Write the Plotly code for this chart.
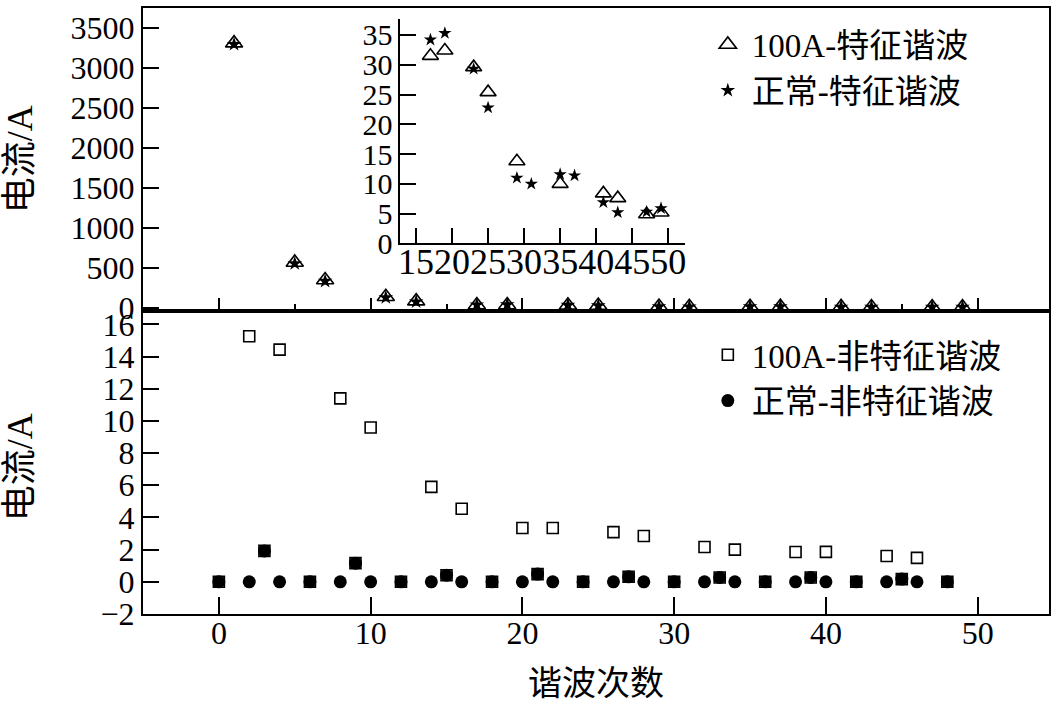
import plotly.graph_objects as go

# ---------------- data ----------------
char_orders = [1, 5, 7, 11, 13, 17, 19, 23, 25, 29, 31, 35, 37, 41, 43, 47, 49]
i100_char = [3310, 565, 345, 135, 80, 31.5, 32.4, 29.6, 25.4, 13.8, 10.2, 10.0, 11.2, 8.4, 7.6, 4.9, 5.2]
normal_char = [3295, 550, 330, 125, 72, 34.2, 35.3, 29.3, 22.8, 11.0, 10.0, 11.6, 11.4, 6.9, 5.2, 5.3, 5.9]

# inset (zoom of orders 15-50); the 100A marks at 31 and 37 are not shown in the inset
inset_orders = [17, 19, 23, 25, 29, 31, 35, 37, 41, 43, 47, 49]
inset_i100 = [31.5, 32.4, 29.6, 25.4, 13.8, None, 10.0, None, 8.4, 7.6, 4.9, 5.2]
inset_normal = [34.2, 35.3, 29.3, 22.8, 11.0, 10.0, 11.6, 11.4, 6.9, 5.2, 5.3, 5.9]

non_orders = [0, 2, 3, 4, 6, 8, 9, 10, 12, 14, 15, 16, 18, 20, 21, 22, 24, 26, 27, 28,
              30, 32, 33, 34, 36, 38, 39, 40, 42, 44, 45, 46, 48]
i100_non = [0.0, 15.26, 1.92, 14.43, 0.0, 11.4, 1.16, 9.59, 0.0, 5.9, 0.41, 4.54, 0.0, 3.34, 0.48, 3.34,
            0.0, 3.09, 0.31, 2.85, 0.0, 2.16, 0.27, 2.0, 0.0, 1.85, 0.27, 1.86, 0.0, 1.6, 0.17, 1.49, 0.0]
normal_non = [0.0, 0.0, 1.92, 0.0, 0.0, 0.0, 1.16, 0.0, 0.0, 0.0, 0.41, 0.0, 0.0, 0.0, 0.48, 0.0,
              0.0, 0.0, 0.31, 0.0, 0.0, 0.0, 0.27, 0.0, 0.0, 0.0, 0.27, 0.0, 0.0, 0.0, 0.17, 0.0, 0.0]

lbl_i100_char = "100A-特征谐波"
lbl_normal_char = "正常-特征谐波"
lbl_i100_non = "100A-非特征谐波"
lbl_normal_non = "正常-非特征谐波"
x_title = "谐波次数"
y_title = "电流/A"

FONT = "Liberation Serif, Times New Roman, Noto Sans CJK SC, serif"
BLACK = "#000000"

fig = go.Figure()

# top panel
fig.add_trace(go.Scatter(x=char_orders, y=i100_char, mode="markers", name=lbl_i100_char,
                         xaxis="x2", yaxis="y2", legend="legend",
                         marker=dict(symbol="triangle-up-open", size=15, color=BLACK,
                                     line=dict(width=1.6, color=BLACK))))
fig.add_trace(go.Scatter(x=char_orders, y=normal_char, mode="markers", name=lbl_normal_char,
                         xaxis="x2", yaxis="y2", legend="legend",
                         marker=dict(symbol="star", size=11, color=BLACK,
                                     line=dict(width=0, color=BLACK))))
# inset
fig.add_trace(go.Scatter(x=inset_orders, y=inset_i100, mode="markers", showlegend=False,
                         xaxis="x3", yaxis="y3",
                         marker=dict(symbol="triangle-up-open", size=14, color=BLACK,
                                     line=dict(width=1.6, color=BLACK))))
fig.add_trace(go.Scatter(x=inset_orders, y=inset_normal, mode="markers", showlegend=False,
                         xaxis="x3", yaxis="y3",
                         marker=dict(symbol="star", size=10, color=BLACK,
                                     line=dict(width=0, color=BLACK))))
# bottom panel
fig.add_trace(go.Scatter(x=non_orders, y=i100_non, mode="markers", name=lbl_i100_non,
                         xaxis="x", yaxis="y", legend="legend2",
                         marker=dict(symbol="square-open", size=11, color=BLACK,
                                     line=dict(width=1.6, color=BLACK))))
fig.add_trace(go.Scatter(x=non_orders, y=normal_non, mode="markers", name=lbl_normal_non,
                         xaxis="x", yaxis="y", legend="legend2",
                         marker=dict(symbol="circle", size=13, color=BLACK,
                                     line=dict(width=0, color=BLACK))))

tickfont = dict(family=FONT, size=32, color=BLACK)

fig.update_layout(
    width=1054, height=702,
    margin=dict(l=143, r=3, t=4, b=88),
    paper_bgcolor="white", plot_bgcolor="white",
    font=dict(family=FONT, color=BLACK, size=32),
    xaxis=dict(domain=[0, 1], anchor="y", range=[-5, 54.7],
               tickvals=[0, 10, 20, 30, 40, 50], ticks="inside", ticklen=17, tickwidth=2,
               tickcolor=BLACK, showline=True, linewidth=2, linecolor=BLACK, mirror=True,
               showgrid=False, zeroline=False, tickfont=tickfont, ticklabelstandoff=-10,
               title=dict(text=x_title, font=dict(family=FONT, size=34), standoff=22)),
    yaxis=dict(domain=[0, 0.4992], anchor="x", range=[-2, 16.8],
               tickvals=list(range(-2, 17, 2)), ticks="inside", ticklen=16, tickwidth=2,
               tickcolor=BLACK, showline=True, linewidth=2, linecolor=BLACK, mirror=True,
               showgrid=False, zeroline=False, tickfont=tickfont),
    xaxis2=dict(domain=[0, 1], anchor="y2", matches="x", range=[-5, 54.7],
                tickvals=[0, 10, 20, 30, 40, 50], ticks="inside", ticklen=13, tickwidth=2,
                tickcolor=BLACK, showticklabels=False,
                minor=dict(tickvals=[5, 15, 25, 35, 45], ticks="inside", ticklen=7,
                           tickwidth=2, tickcolor=BLACK),
                showline=True, linewidth=2, linecolor=BLACK, mirror=True,
                showgrid=False, zeroline=False),
    yaxis2=dict(domain=[0.5008, 1], anchor="x2", range=[-37, 3750],
                tickvals=list(range(0, 3501, 500)), ticks="inside", ticklen=16, tickwidth=2,
                tickcolor=BLACK, showline=True, linewidth=2, linecolor=BLACK, mirror=True,
                showgrid=False, zeroline=False, tickfont=tickfont),
    xaxis3=dict(domain=[0.2841, 0.598], anchor="y3", range=[12.83, 52.3],
                tickvals=list(range(15, 51, 5)), ticks="inside", ticklen=15, tickwidth=2,
                tickcolor=BLACK, showline=True, linewidth=2, linecolor=BLACK, mirror=False,
                showgrid=False, zeroline=False, tickangle=0, ticklabelstandoff=-15,
                tickfont=dict(family=FONT, size=36, color=BLACK)),
    yaxis3=dict(domain=[0.6115, 0.982], anchor="x3", range=[0, 37.7],
                tickvals=list(range(0, 36, 5)), ticks="inside", ticklen=16, tickwidth=2,
                tickcolor=BLACK, showline=True, linewidth=2, linecolor=BLACK, mirror=False,
                showgrid=False, zeroline=False,
                tickfont=dict(family=FONT, size=30, color=BLACK)),
    legend=dict(x=0.619, y=0.986, xanchor="left", yanchor="top", bgcolor="rgba(0,0,0,0)",
                borderwidth=0, font=dict(family=FONT, size=33, color=BLACK),
                itemwidth=38, tracegroupgap=0),
    legend2=dict(x=0.619, y=0.474, xanchor="left", yanchor="top", bgcolor="rgba(0,0,0,0)",
                 borderwidth=0, font=dict(family=FONT, size=33, color=BLACK),
                 itemwidth=38, tracegroupgap=0),
    showlegend=True,
    annotations=[
        dict(text=y_title, textangle=-90, x=20, y=156, xref="paper", yref="paper",
             showarrow=False, font=dict(family=FONT, size=36, color=BLACK)),
        dict(text=y_title, textangle=-90, x=20, y=466, xref="paper", yref="paper",
             showarrow=False, font=dict(family=FONT, size=36, color=BLACK)),
    ],
)

# convert the two y-title annotations from pixel positions to paper coords
W = 1054 - 143 - 3
H = 702 - 4 - 88
for a in fig.layout.annotations:
    px, py = a.x, a.y
    a.x = (px - 143) / W
    a.y = (614 - py) / H
    a.xanchor = "center"
    a.yanchor = "middle"

fig.write_html("out.html")
